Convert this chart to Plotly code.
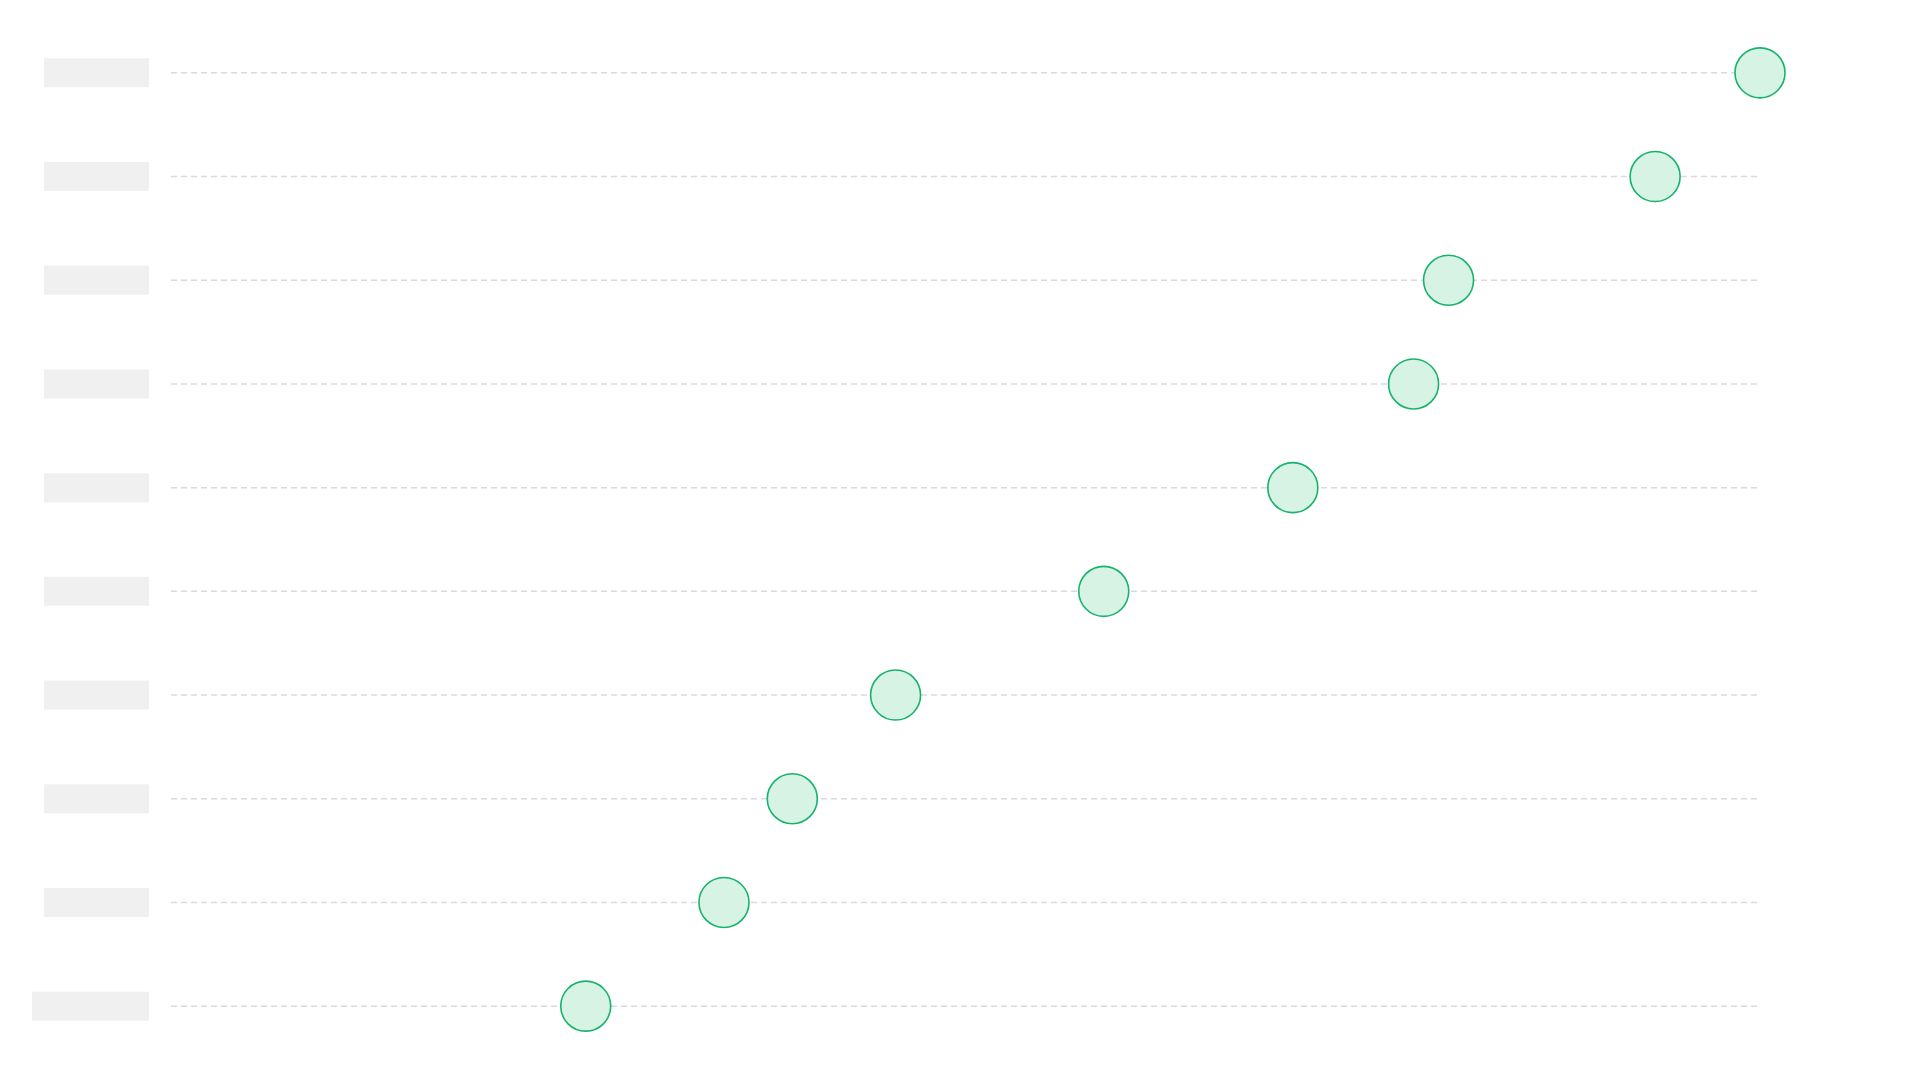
import plotly.graph_objects as go

# skeleton dot plot: ten unnamed rows, grey label placeholders
rows = ["r1", "r2", "r3", "r4", "r5", "r6", "r7", "r8", "r9", "r10"]
values = [100, 93.4, 80.4, 78.2, 70.6, 58.7, 45.6, 39.1, 34.8, 26.1]
line_end = [100, 100, 100, 100, 100, 100, 100, 100, 100, 100]
label_widths = [105, 105, 105, 105, 105, 105, 105, 105, 105, 117]

fig = go.Figure()

# dashed guide lines, one per row
lx, ly = [], []
for r, e in zip(rows, line_end):
    lx += [0, e, None]
    ly += [r, r, None]
fig.add_trace(go.Scatter(x=lx, y=ly, mode="lines",
                         line=dict(color="#dadada", width=1.5, dash="6px,4px"),
                         hoverinfo="skip", showlegend=False))

fig.add_trace(go.Scatter(x=values, y=rows, mode="markers",
                         marker=dict(size=50, color="#d7f3e4",
                                     line=dict(color="#16b36c", width=1.6)),
                         cliponaxis=False, showlegend=False))

# grey placeholder boxes where the labels would be
shapes = []
for r, w in zip(rows, label_widths):
    shapes.append(dict(type="rect", xref="paper", yref="y",
                       xsizemode="pixel", ysizemode="pixel",
                       xanchor=0, yanchor=r,
                       x0=-22 - w, x1=-22, y0=-14.5, y1=14.5,
                       fillcolor="#f0f0f0", line=dict(width=0)))

fig.update_layout(
    width=1920, height=1080,
    margin=dict(l=163, r=168, t=13, b=30),
    plot_bgcolor="white", paper_bgcolor="white",
    shapes=shapes,
    xaxis=dict(range=[0, 100], visible=False, showgrid=False, zeroline=False),
    yaxis=dict(range=[9.5, -0.5], visible=False, showgrid=False,
               categoryorder="array", categoryarray=rows),
)

fig.write_html("out.html")
